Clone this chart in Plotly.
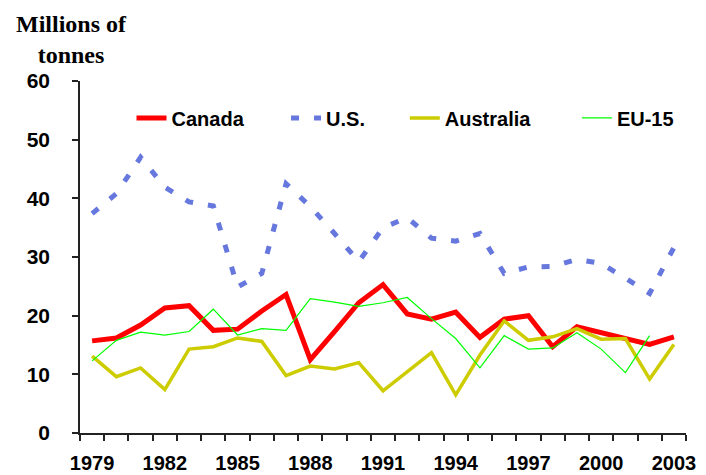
import plotly.graph_objects as go

years = list(range(1979, 2004))

canada = [15.7, 16.2, 18.4, 21.3, 21.7, 17.5, 17.7, 20.8, 23.6, 12.5, 17.3, 22.2, 25.3,
          20.3, 19.4, 20.6, 16.3, 19.4, 20.0, 14.7, 18.1, 17.1, 16.2, 15.1, 16.4]
us = [37.4, 40.8, 47.0, 41.9, 39.4, 38.7, 24.9, 27.2, 42.5, 38.6, 34.0, 29.2, 35.0,
      36.7, 33.2, 32.7, 34.0, 27.2, 28.3, 28.4, 29.6, 28.9, 26.4, 23.8, 31.6]
australia = [13.1, 9.6, 11.1, 7.4, 14.3, 14.7, 16.2, 15.6, 9.8, 11.4, 10.9, 12.0, 7.2,
             10.4, 13.7, 6.5, 13.3, 19.1, 15.8, 16.4, 17.8, 16.0, 16.1, 9.2, 15.1]
eu15 = [12.3, 15.8, 17.2, 16.7, 17.3, 21.1, 16.7, 17.8, 17.5, 22.9, 22.3, 21.6, 22.2,
        23.1, 19.5, 16.1, 11.1, 16.6, 14.3, 14.5, 17.1, 14.3, 10.3, 16.6, None]

label_years = list(range(1979, 2004, 3))
y_ticks = [0, 10, 20, 30, 40, 50, 60]

sans = "Liberation Sans, Arial, sans-serif"

fig = go.Figure()
fig.add_trace(go.Scatter(x=years, y=canada, name="Canada", mode="lines", legend="legend",
                         line=dict(color="#FF0000", width=5)))
fig.add_trace(go.Scatter(x=years, y=us, name="U.S.", mode="lines", legend="legend2",
                         line=dict(color="#6677DD", width=5, dash="8px,15px")))
fig.add_trace(go.Scatter(x=years, y=australia, name="Australia", mode="lines", legend="legend3",
                         line=dict(color="#CCCC00", width=3.5)))
fig.add_trace(go.Scatter(x=years, y=eu15, name="EU-15", mode="lines", legend="legend4",
                         line=dict(color="#00FF00", width=1.2)))

# one legend per series so each entry sits where the original has it
def legend_at(x):
	return dict(orientation="h", x=x, xanchor="left", y=0.895, yanchor="middle",
	            bgcolor="rgba(0,0,0,0)", font=dict(size=20, weight="bold"))

# the page body adds 8px around the figure, so the figure is 8px smaller
fig.update_layout(
	width=698, height=467,
	margin=dict(l=72, r=20, t=73, b=42),
	paper_bgcolor="white", plot_bgcolor="white",
	font=dict(family=sans, color="black"),
	showlegend=True,
	legend=legend_at(0.085),
	legend2=legend_at(0.340),
	legend3=legend_at(0.536),
	legend4=legend_at(0.820),
	annotations=[dict(text="Millions of<br>tonnes", xref="paper", yref="paper",
	                  x=-0.0145, y=1.205, xanchor="center", yanchor="top",
	                  showarrow=False, align="center",
	                  font=dict(family="Liberation Serif, Times New Roman, serif",
	                            size=24, weight="bold"))],
)

fig.update_xaxes(
	range=[1978.5, 2003.5], tickmode="array", tickvals=label_years,
	ticks="", showgrid=False, zeroline=False, automargin=False,
	showline=True, linecolor="#222", linewidth=1.5,
	tickfont=dict(size=20, weight="bold"), ticklabelstandoff=11,
	minor=dict(ticks="outside", tick0=1978.5, dtick=1, ticklen=6,
	           tickcolor="#222", tickwidth=1.5, showgrid=False),
)
fig.update_yaxes(
	range=[0, 60], tickmode="array", tickvals=y_ticks,
	ticks="outside", ticklen=6, tickcolor="#222", tickwidth=1.5,
	showgrid=False, zeroline=False, automargin=False,
	showline=True, linecolor="#222", linewidth=1.5,
	tickfont=dict(size=21, weight="bold"), ticklabelstandoff=18,
)

fig.write_html("out.html")
